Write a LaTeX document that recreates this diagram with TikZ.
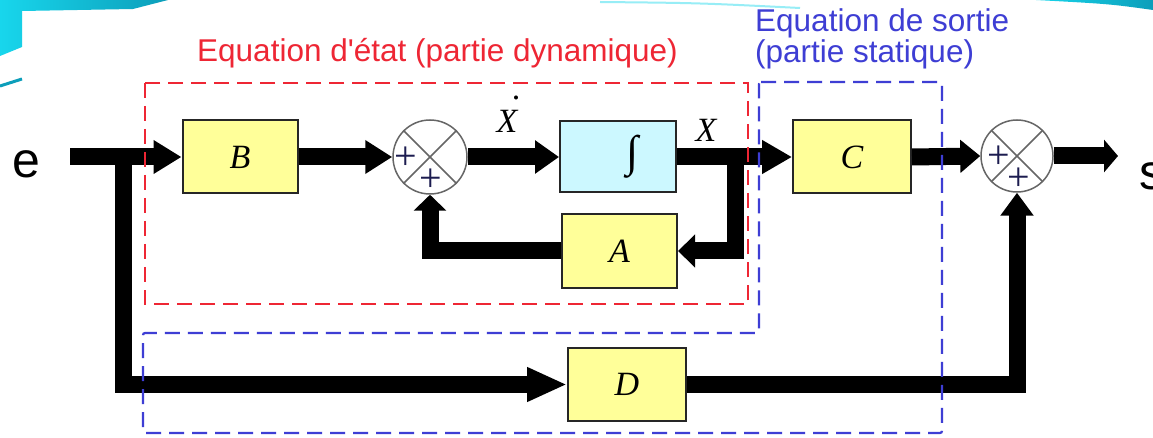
\documentclass[tikz,border=0pt]{standalone}
\usepackage{fontspec}
\setmainfont{Liberation Serif}
\newfontfamily\labelfont{Liberation Sans}
\usetikzlibrary{arrows.meta,calc}

\definecolor{boxyellow}{RGB}{255,255,153}
\definecolor{boxcyan}{RGB}{204,248,255}
\definecolor{statered}{RGB}{238,38,52}
\definecolor{outblue}{RGB}{62,62,212}
\definecolor{tealdark}{RGB}{12,158,186}
\definecolor{teallight}{RGB}{24,214,236}
\definecolor{plusink}{RGB}{28,28,80}

% dotted state variable
\newcommand{\stateDot}{\leavevmode\rlap{\hspace{0.45em}\raisebox{0.98em}{\upshape.}}X}

\tikzset{
  block/.style={draw=black!85, line width=2pt, fill=boxyellow,
    minimum width=115pt, minimum height=73pt, inner sep=0pt,
    font=\fontsize{34}{38}\selectfont\itshape},
  sumj/.style={circle, draw=black!60, line width=1.5pt, fill=white,
    minimum size=74pt, inner sep=0pt},
  flow/.style={line width=17pt, line join=miter,
    -{Triangle[length=#1,width=32pt]}},
  flow/.default=28pt,
  sign/.style={font=\fontsize{40}{40}\selectfont, text=plusink, inner sep=0pt},
  region/.style={line width=2.2pt, dash pattern=on 15pt off 8pt},
  regionlabel/.style={font=\labelfont\fontsize{31.5}{31.5}\selectfont, inner sep=0pt},
  varlabel/.style={font=\fontsize{34}{34}\selectfont\itshape, inner sep=0pt},
  signal/.style={font=\labelfont\fontsize{50}{50}\selectfont, inner sep=0pt}
}

\begin{document}
\begin{tikzpicture}[x=1pt,y=-1pt]
\useasboundingbox (0,0) rectangle (1153,438);
\fill[white] (0,0) rectangle (1153,438);

% slide frame swooshes
\shade[left color=teallight, right color=tealdark]
  (0,0) -- (168,0) -- (133,9) -- (22,11) -- (22,47) -- (0,56) -- cycle;
\draw[tealdark, line width=3pt] (0,86) -- (22,79);
\shade[left color=teallight, right color=tealdark]
  (1036,0) -- (1153,0) -- (1153,10) .. controls (1110,4) .. (1036,0) -- cycle;
\draw[teallight!45, line width=2pt] (600,2) .. controls (700,3) .. (800,8);

% blocks
\node[block] (B) at (240,157) {B};
\node[block, fill=boxcyan, minimum width=116pt, minimum height=71pt,
      font=\fontsize{44}{48}\selectfont] (I) at (618,157) {\hspace{30pt}∫};
\node[block] (A) at (619.5,251) {A};
\node[block, minimum width=118pt] (C) at (852,157) {C};
\node[block, minimum width=118pt] (D) at (627,384.5) {D};

% summing junctions
\node[sumj] (S1) at (430,157) {};
\node[sumj, minimum size=72pt] (S2) at (1017,156) {};
\foreach \s in {S1,S2}{
  \draw[black!60, line width=1.5pt] (\s.north west) -- (\s.south east);
  \draw[black!60, line width=1.5pt] (\s.north east) -- (\s.south west);
}
\node[sign] (p1a) at (406,158) {+};
\node[sign] (p1b) at (431,180) {+};
\node[sign] (p2a) at (999,157) {+};
\node[sign] (p2b) at (1019,179) {+};

% signal names
\node[signal, anchor=base] (ein) at (26,178) {e};
\node[signal, anchor=base west] (sout) at (1139,190) {s};
\node[varlabel, anchor=base] (xd) at (507,133) {\stateDot};
\node[varlabel, anchor=base] (xs) at (706,142) {X};

% connection points
\coordinate (inStart) at (70,157);
\coordinate (split) at (123,157);
\coordinate (tap) at (735,157);
\coordinate (outEnd) at (1118,156);

% signal flow
\draw[flow=28pt] (inStart) -- (B.west);
\draw[flow=40pt] (split) |- (D.west);
\draw[flow=27pt] (B.east) -- (S1.west);
\draw[flow=24pt] (S1.east) -- (I.west);
\draw[flow=30pt] (I.east) -- (C.west);
\draw[flow=17pt] (tap) |- (A.east);
\draw[flow=16pt] (A.west) -| (S1.south);
\draw[flow=20pt] (C.east) -- (S2.west);
\draw[flow=14pt] (S2.east) -- (outEnd);
\draw[flow=23pt] (D.east) -| (S2.south);

% state and output regions
\draw[region, statered] (145,83) rectangle (748,304);
\draw[region, outblue, rounded corners=2pt]
  (759,82) -- (942,82) -- (942,433) -- (143,433) -- (143,333) -- (759,333) -- cycle;
\node[regionlabel, text=statered, anchor=base west] (lstate) at (197,62)
  {Equation d'état (partie dynamique)};
\node[regionlabel, text=outblue, anchor=base west] (lout1) at (755,32)
  {Equation de sortie};
\node[regionlabel, text=outblue, anchor=base west] (lout2) at (755,63)
  {(partie statique)};
\end{tikzpicture}
\end{document}
